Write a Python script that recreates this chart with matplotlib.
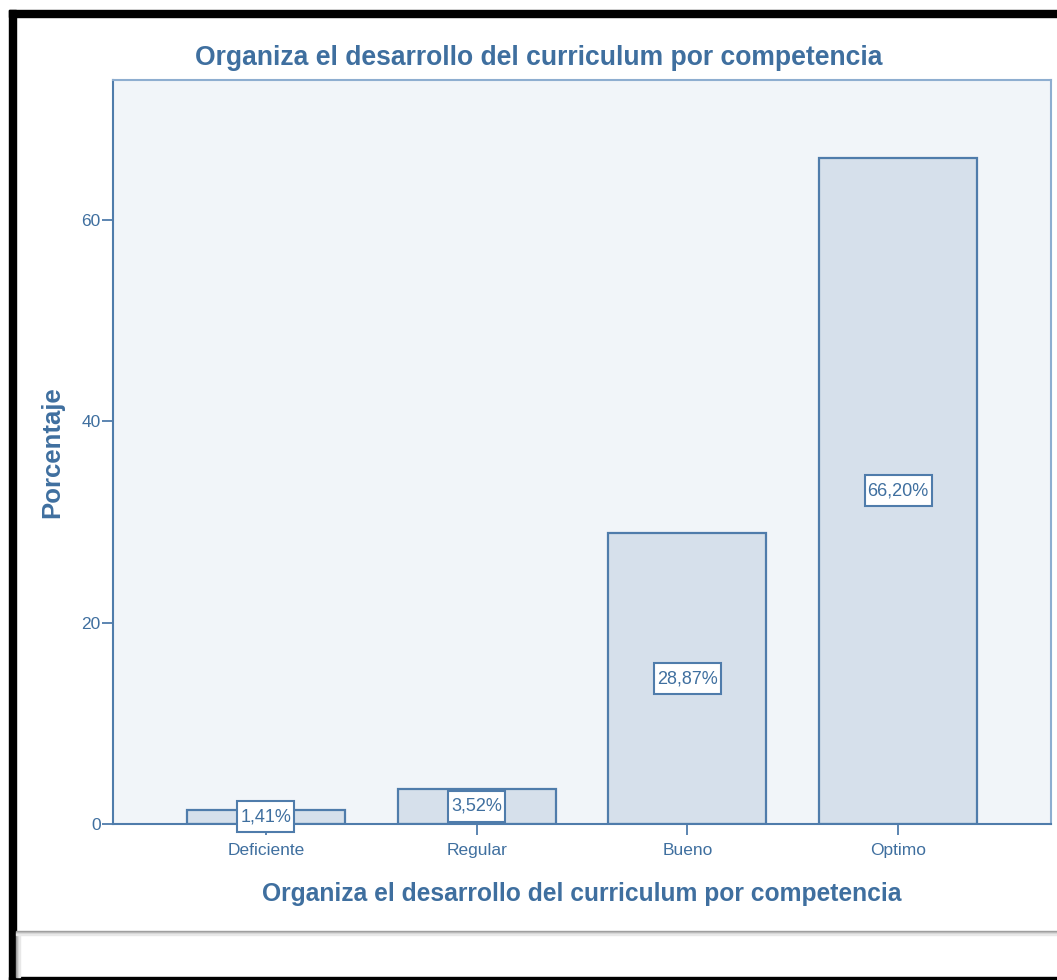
import matplotlib.pyplot as plt
from matplotlib.patches import Rectangle

categorias = ['Deficiente', 'Regular', 'Bueno', 'Optimo']
porcentajes = [1.41, 3.52, 28.87, 66.20]
etiquetas = ['1,41%', '3,52%', '28,87%', '66,20%']
yticks = [0, 20, 40, 60]

azul = '#3f6f9f'
borde = '#4f7cab'

plt.rcParams['font.family'] = ['Liberation Sans', 'DejaVu Sans']

fig = plt.figure(figsize=(10.57, 9.8), dpi=100)
W, H = 1057, 980

# marco negro de la captura
fig.patches.append(Rectangle((9 / W, 1 - 17 / H), 1, 7 / H, transform=fig.transFigure,
                             color='black', zorder=0))
fig.patches.append(Rectangle((9 / W, 0), 7 / W, 1 - 10 / H, transform=fig.transFigure,
                             color='black', zorder=0))
fig.patches.append(Rectangle((9 / W, 0), 1, 3 / H, transform=fig.transFigure,
                             color='black', zorder=0))
# franja inferior con sombra
for i, c in enumerate(['#9a9a9a', '#b5b5b5', '#d2d2d2', '#e8e8e8']):
    fig.patches.append(Rectangle((16 / W, 1 - (932 + i) / H), 1, 1 / H,
                                 transform=fig.transFigure, color=c, zorder=1))
    fig.patches.append(Rectangle((((16 + i) / W), 3 / H), 1 / W, (H - 935 - 3) / H,
                                 transform=fig.transFigure, color=c, zorder=1))

ax = fig.add_axes([113 / W, 1 - 824 / H, (1051 - 113) / W, (824 - 80) / H])
ax.set_facecolor('#f1f5f9')

x = range(len(categorias))
ax.bar(x, porcentajes, width=0.75, color='#d6e0eb', edgecolor=borde, linewidth=1.6, zorder=2)

ax.set_xlim(-0.725, 3.725)
ax.set_ylim(0, 73.9)

textos = []
for xi, v, t in zip(x, porcentajes, etiquetas):
    textos.append(ax.text(xi, v / 2, t, ha='center', va='center', fontsize=13,
                          color=azul, zorder=4))

# cajas blancas alrededor de las etiquetas
fig.canvas.draw()
r = fig.canvas.get_renderer()
inv = ax.transData.inverted()
for tx in textos:
    bb = tx.get_window_extent(r)
    x0, y0 = inv.transform((bb.x0 - 3, bb.y0 - 7))
    x1, y1 = inv.transform((bb.x1 + 3, bb.y1 + 7))
    ax.add_patch(Rectangle((x0, y0), x1 - x0, y1 - y0, facecolor='white',
                           edgecolor=borde, linewidth=1.5, zorder=3, clip_on=False))

ax.set_yticks(yticks)
ax.set_xticks(list(x))
ax.set_xticklabels(categorias)
ax.tick_params(colors=borde, labelcolor=azul, labelsize=12.5, length=8, width=1.3)
ax.tick_params(axis='y', pad=1)
ax.tick_params(axis='x', pad=6)

for s in ['left', 'bottom']:
    ax.spines[s].set_color(borde)
    ax.spines[s].set_linewidth(1.5)
for s in ['top', 'right']:
    ax.spines[s].set_color('#8eaed0')
    ax.spines[s].set_linewidth(1.5)

ax.set_ylabel('Porcentaje', fontsize=18.5, fontweight='bold', color=azul, labelpad=12)
ax.set_xlabel('Organiza el desarrollo del curriculum por competencia', fontsize=17.7,
              fontweight='bold', color=azul, labelpad=17)
fig.text(539 / W, 1 - 58 / H, 'Organiza el desarrollo del curriculum por competencia',
         ha='center', va='center', fontsize=19.1, fontweight='bold', color=azul)

fig.savefig('out.png', dpi=100, facecolor='white')
